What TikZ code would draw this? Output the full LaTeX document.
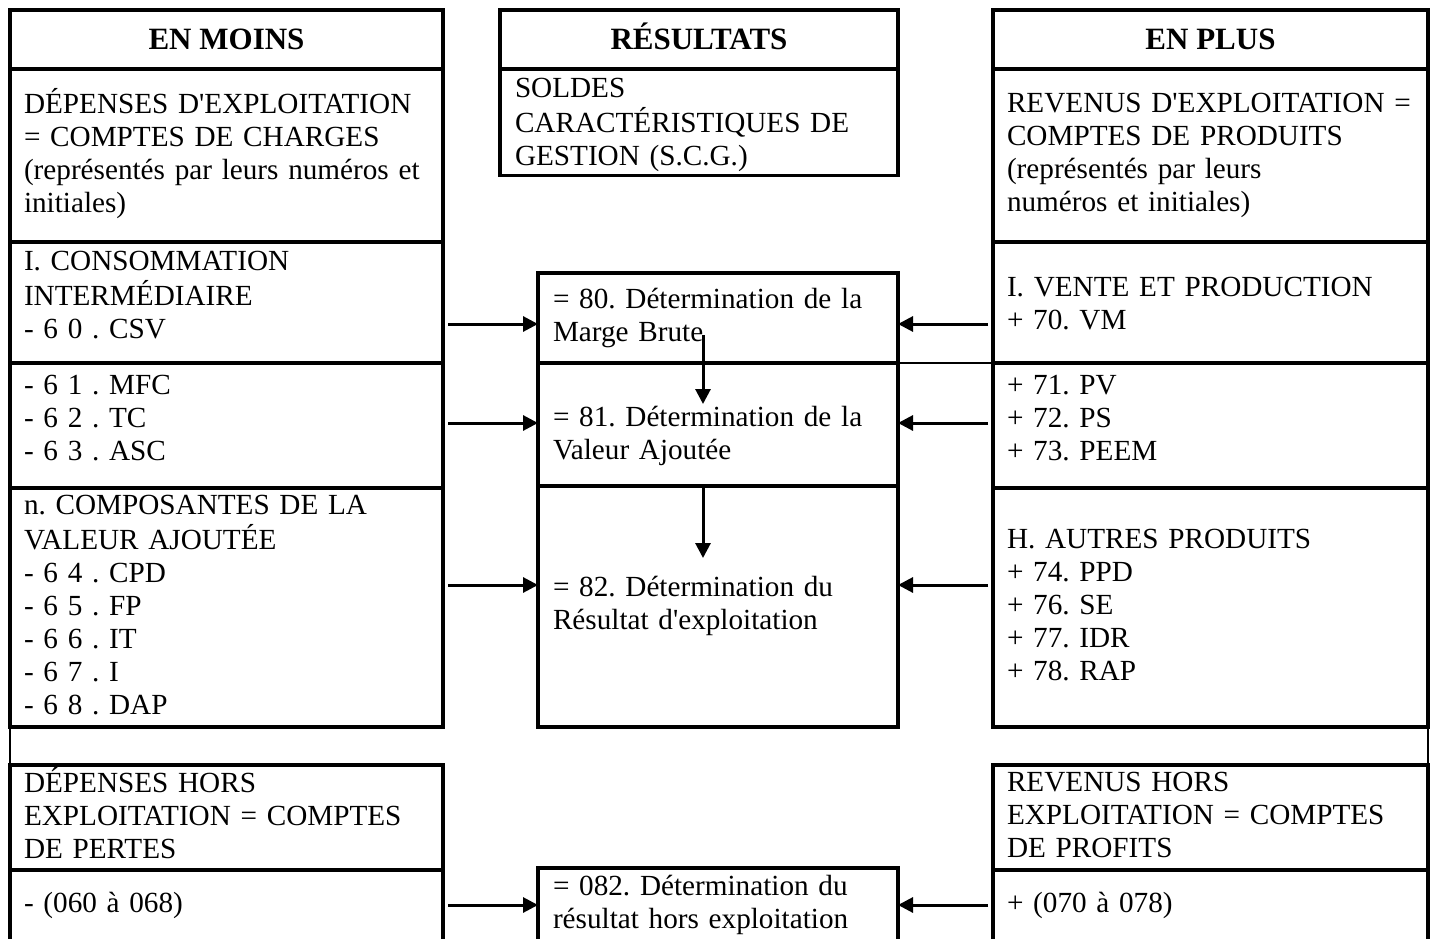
\documentclass[tikz,border=0pt]{standalone}
\usepackage{fontspec}
\setmainfont{Liberation Serif}[Ligatures=TeXOff]
\usetikzlibrary{arrows.meta}
\newcommand{\celltext}[1]{\begin{tabular}{@{}l@{}}#1\end{tabular}}
\begin{document}
\frenchspacing
\begin{tikzpicture}[x=1pt,y=-1pt,
  box/.style={draw, line width=3.2pt, rectangle, anchor=north west, outer sep=0pt, inner sep=0pt},
  cell/.style={box, inner xsep=14pt, align=left, font=\fontsize{29.2}{33}\selectfont},
  mcell/.style={cell, inner xsep=15pt},
  head/.style={box, align=center, text height=26pt, text depth=6pt, font=\fontsize{31}{37}\selectfont\bfseries},
  arr/.style={line width=3pt, -{Triangle[length=15pt,width=15pt]}},
  fine/.style={line width=1.5pt}]
\useasboundingbox (0,0) rectangle (1436,939);
\clip (0,0) rectangle (1436,939);
\fill[white] (0,0) rectangle (1436,939);

% left column
\node[head, minimum width=433pt, minimum height=59pt] (H1) at (10,10) {EN MOINS};
\node[cell, minimum width=433pt, minimum height=173pt, text width=405pt] (L1) at (10,69)
  {\celltext{DÉPENSES D'EXPLOITATION\\= COMPTES DE CHARGES\\(représentés par leurs numéros et\\initiales)}};
\node[cell, minimum width=433pt, minimum height=121pt, text width=405pt] (L2) at (10,242)
  {\celltext{I. CONSOMMATION\\INTERMÉDIAIRE\\- 6 0 . CSV\\[10pt]}};
\node[cell, minimum width=433pt, minimum height=125pt, text width=405pt] (L3) at (10,363)
  {\celltext{- 6 1 . MFC\\- 6 2 . TC\\- 6 3 . ASC\\[10pt]}};
\node[cell, minimum width=433pt, minimum height=239pt, text width=405pt] (L4) at (10,488)
  {\celltext{n. COMPOSANTES DE LA\\VALEUR AJOUTÉE\\- 6 4 . CPD\\- 6 5 . FP\\- 6 6 . IT\\- 6 7 . I\\- 6 8 . DAP}};
\node[cell, minimum width=433pt, minimum height=105pt, text width=405pt] (L5) at (10,765)
  {\celltext{DÉPENSES HORS\\EXPLOITATION = COMPTES\\DE PERTES}};
\node[cell, minimum width=433pt, minimum height=72pt, text width=405pt] (L6) at (10,870)
  {\celltext{- (060 à 068)}};

% middle column
\node[head, minimum width=398pt, minimum height=59pt] (M0) at (500,10) {RÉSULTATS};
\node[mcell, minimum width=398pt, minimum height=104pt, text width=368pt] (M1) at (500,69)
  {\celltext{\rule{0pt}{29pt}SOLDES\\CARACTÉRISTIQUES DE\\GESTION (S.C.G.)}};
\node[mcell, minimum width=360pt, minimum height=90pt, text width=330pt] (B80) at (538,273)
  {\celltext{= 80. Détermination de la\\Marge Brute}};
\node[mcell, minimum width=360pt, minimum height=123pt, text width=330pt] (B81) at (538,363)
  {\celltext{\rule{0pt}{47pt}= 81. Détermination de la\\Valeur Ajoutée}};
\node[mcell, minimum width=360pt, minimum height=241pt, text width=330pt] (B82) at (538,486)
  {\celltext{= 82. Détermination du\\Résultat d'exploitation}};
\node[mcell, minimum width=360pt, minimum height=74pt, text width=330pt] (B082) at (538,868)
  {\celltext{= 082. Détermination du\\résultat hors exploitation}};

% right column
\node[head, minimum width=435pt, minimum height=59pt] (R0) at (993,10) {EN PLUS};
\node[cell, minimum width=435pt, minimum height=173pt, text width=407pt] (R1) at (993,69)
  {\celltext{REVENUS D'EXPLOITATION =\\COMPTES DE PRODUITS\\(représentés par leurs\\numéros et initiales)}};
\node[cell, minimum width=435pt, minimum height=121pt, text width=407pt] (R2) at (993,242)
  {\celltext{\rule{0pt}{31pt}I. VENTE ET PRODUCTION\\+ 70. VM}};
\node[cell, minimum width=435pt, minimum height=125pt, text width=407pt] (R3) at (993,363)
  {\celltext{+ 71. PV\\+ 72. PS\\+ 73. PEEM\\[10pt]}};
\node[cell, minimum width=435pt, minimum height=239pt, text width=407pt] (R4) at (993,488)
  {\celltext{H. AUTRES PRODUITS\\+ 74. PPD\\+ 76. SE\\+ 77. IDR\\+ 78. RAP}};
\node[cell, minimum width=435pt, minimum height=105pt, text width=407pt] (R5) at (993,765)
  {\celltext{REVENUS HORS\\EXPLOITATION = COMPTES\\DE PROFITS}};
\node[cell, minimum width=435pt, minimum height=72pt, text width=407pt] (R6) at (993,870)
  {\celltext{+ (070 à 078)}};

% thin table lines
\draw[fine] (B80.south east) -- (R2.south west);
\draw[fine] (L4.south west) -- (L5.north west);
\draw[fine] (R4.south east) -- (R5.north east);

% arrow levels
\coordinate (ya) at (0,324);
\coordinate (yb) at (0,423);
\coordinate (yc) at (0,585);
\coordinate (yd) at (0,905);

\draw[arr, shorten <=5pt] (L2.east |- ya) -- (B80.west |- ya);
\draw[arr, shorten <=5pt] (L3.east |- yb) -- (B81.west |- yb);
\draw[arr, shorten <=5pt] (L4.east |- yc) -- (B82.west |- yc);
\draw[arr, shorten <=5pt] (L6.east |- yd) -- (B082.west |- yd);

\draw[arr, shorten <=5pt] (R2.west |- ya) -- (B80.east |- ya);
\draw[arr, shorten <=5pt] (R3.west |- yb) -- (B81.east |- yb);
\draw[arr, shorten <=5pt] (R4.west |- yc) -- (B82.east |- yc);
\draw[arr, shorten <=5pt] (R6.west |- yd) -- (B082.east |- yd);

% vertical arrows
\coordinate (v1a) at (703,335);
\coordinate (v1b) at (703,404);
\coordinate (v2b) at (703,558);
\draw[arr] (v1a) -- (v1b);
\draw[arr] (B82.north -| v2b) -- (v2b);
\end{tikzpicture}
\end{document}
